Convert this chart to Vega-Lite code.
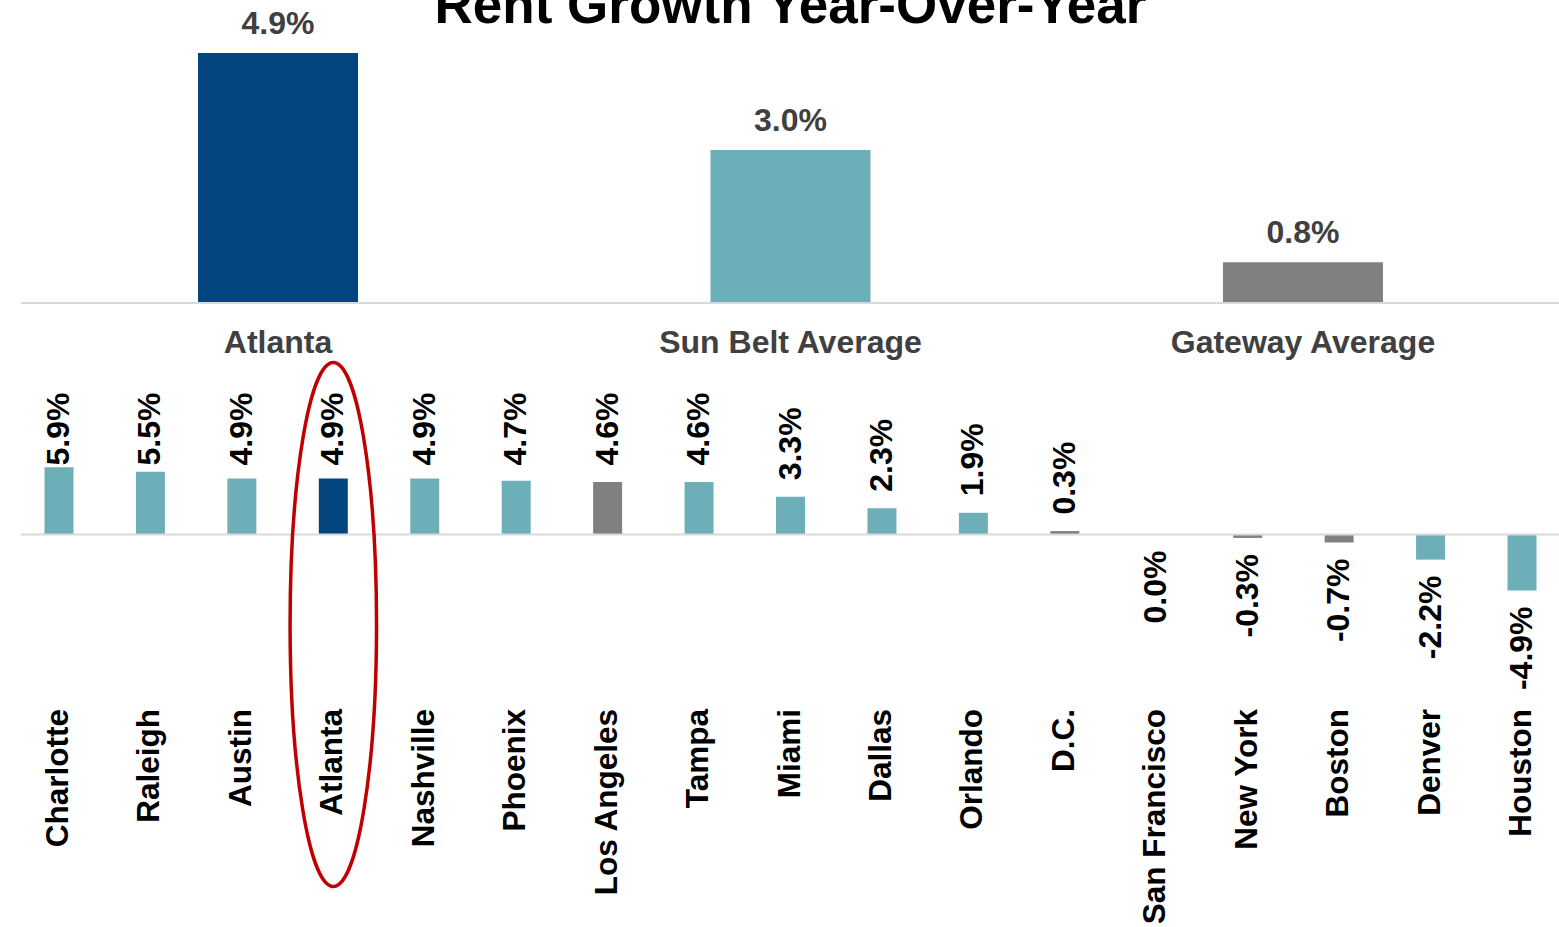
{
  "$schema": "https://vega.github.io/schema/vega-lite/v6.json",
  "padding": {"left": 20, "top": -19, "right": 0, "bottom": 0},
  "background": "white",
  "config": {
    "view": {"stroke": null},
    "font": "Liberation Sans",
    "locale": {"number": {"decimal": ".", "thousands": ",", "grouping": [3], "currency": ["$", ""], "minus": "-"}}
  },
  "title": {"text": "Rent Growth Year-Over-Year", "fontSize": 53, "fontWeight": "bold", "color": "#000000", "font": "Liberation Sans", "anchor": "middle", "offset": -26},
  "spacing": 163,
  "bounds": "flush",
  "vconcat": [
    {
      "width": 1539,
      "height": 255,
      "data": {"values": [
        {"market": "Atlanta", "g": 0.049, "grp": "Atlanta"},
        {"market": "Sun Belt Average", "g": 0.030, "grp": "Sun Belt"},
        {"market": "Gateway Average", "g": 0.008, "grp": "Gateway"}
      ]},
      "layer": [
        {
          "mark": {"type": "bar"},
          "encoding": {
            "x": {"field": "market", "type": "nominal", "sort": null, "title": null,
              "scale": {"domain": ["Atlanta", "Sun Belt Average", "Gateway Average"], "paddingInner": 0.6878, "paddingOuter": 0.3454},
              "axis": {"labelAngle": 0, "labelPadding": 24, "labelFontSize": 32, "labelFontWeight": "bold", "labelColor": "#404040", "ticks": false, "tickSize": 0, "domain": false, "labelLimit": 600, "labelOverlap": false}},
            "y": {"field": "g", "type": "quantitative", "scale": {"domain": [0, 0.05]}, "axis": null},
            "color": {"field": "grp", "type": "nominal", "scale": {"domain": ["Atlanta", "Sun Belt", "Gateway"], "range": ["#03467F", "#6DAFB8", "#808080"]}, "legend": null}
          }
        },
        {
          "mark": {"type": "text", "baseline": "alphabetic", "dy": -19, "fontSize": 32, "fontWeight": "bold", "color": "#404040"},
          "encoding": {
            "x": {"field": "market", "type": "nominal", "sort": null},
            "y": {"field": "g", "type": "quantitative", "scale": {"domain": [0, 0.05]}},
            "text": {"field": "g", "type": "quantitative", "format": ".1%"}
          }
        },
        {
          "data": {"values": [{}]},
          "mark": {"type": "rule", "color": "#D9D9D9", "strokeWidth": 2},
          "encoding": {"y": {"datum": 0, "type": "quantitative", "scale": {"domain": [0, 0.05]}}}
        }
      ]
    },
    {
      "width": 1539,
      "height": 137,
      "data": {"values": [
        {"market": "Charlotte", "g": 0.059, "grp": "Sun Belt"},
        {"market": "Raleigh", "g": 0.055, "grp": "Sun Belt"},
        {"market": "Austin", "g": 0.049, "grp": "Sun Belt"},
        {"market": "Atlanta", "g": 0.049, "grp": "Atlanta"},
        {"market": "Nashville", "g": 0.049, "grp": "Sun Belt"},
        {"market": "Phoenix", "g": 0.047, "grp": "Sun Belt"},
        {"market": "Los Angeles", "g": 0.046, "grp": "Gateway"},
        {"market": "Tampa", "g": 0.046, "grp": "Sun Belt"},
        {"market": "Miami", "g": 0.033, "grp": "Sun Belt"},
        {"market": "Dallas", "g": 0.023, "grp": "Sun Belt"},
        {"market": "Orlando", "g": 0.019, "grp": "Sun Belt"},
        {"market": "D.C.", "g": 0.003, "grp": "Gateway"},
        {"market": "San Francisco", "g": 0.0, "grp": "Gateway"},
        {"market": "New York", "g": -0.003, "grp": "Gateway"},
        {"market": "Boston", "g": -0.007, "grp": "Gateway"},
        {"market": "Denver", "g": -0.022, "grp": "Sun Belt"},
        {"market": "Houston", "g": -0.049, "grp": "Sun Belt"}
      ]},
      "layer": [
        {
          "mark": {"type": "bar"},
          "encoding": {
            "x": {"field": "market", "type": "nominal", "sort": null, "title": null,
              "scale": {"domain": ["Charlotte", "Raleigh", "Austin", "Atlanta", "Nashville", "Phoenix", "Los Angeles", "Tampa", "Miami", "Dallas", "Orlando", "D.C.", "San Francisco", "New York", "Boston", "Denver", "Houston"], "paddingInner": 0.6829, "paddingOuter": 0.257},
              "axis": {"labelAngle": -90, "labelPadding": 105.5, "labelFontSize": 31.5, "labelFontWeight": "bold", "labelColor": "#000000", "ticks": false, "tickSize": 0, "domain": false, "labelLimit": 600, "labelOverlap": false}},
            "y": {"field": "g", "type": "quantitative", "scale": {"domain": [-0.06, 0.06]}, "axis": null},
            "color": {"field": "grp", "type": "nominal", "scale": {"domain": ["Atlanta", "Sun Belt", "Gateway"], "range": ["#03467F", "#6DAFB8", "#808080"]}, "legend": null}
          }
        },
        {
          "transform": [{"filter": "datum.g >= 0.046"}],
          "mark": {"type": "text", "angle": 270, "align": "left", "baseline": "middle", "dx": 16.5, "fontSize": 32, "fontWeight": "bold", "color": "#000000"},
          "encoding": {
            "x": {"field": "market", "type": "nominal", "sort": null},
            "y": {"datum": 0.046, "type": "quantitative", "scale": {"domain": [-0.06, 0.06]}},
            "text": {"field": "g", "type": "quantitative", "format": ".1%"}
          }
        },
        {
          "transform": [{"filter": "datum.g > 0 && datum.g < 0.046"}],
          "mark": {"type": "text", "angle": 270, "align": "left", "baseline": "middle", "dx": 16.5, "fontSize": 32, "fontWeight": "bold", "color": "#000000"},
          "encoding": {
            "x": {"field": "market", "type": "nominal", "sort": null},
            "y": {"field": "g", "type": "quantitative", "scale": {"domain": [-0.06, 0.06]}},
            "text": {"field": "g", "type": "quantitative", "format": ".1%"}
          }
        },
        {
          "transform": [{"filter": "datum.g <= 0"}],
          "mark": {"type": "text", "angle": 270, "align": "right", "baseline": "middle", "dx": -16, "fontSize": 32, "fontWeight": "bold", "color": "#000000"},
          "encoding": {
            "x": {"field": "market", "type": "nominal", "sort": null},
            "y": {"field": "g", "type": "quantitative", "scale": {"domain": [-0.06, 0.06]}},
            "text": {"field": "g", "type": "quantitative", "format": ".1%"}
          }
        },
        {
          "data": {"values": [{}]},
          "mark": {"type": "rule", "color": "#D9D9D9", "strokeWidth": 2},
          "encoding": {"y": {"datum": 0, "type": "quantitative", "scale": {"domain": [-0.06, 0.06]}}}
        },
        {
          "data": {"values": [{}]},
          "mark": {"type": "point", "shape": "M0,-1C0.091,-1 0.165,-0.552 0.165,0C0.165,0.552 0.091,1 0,1C-0.091,1 -0.165,0.552 -0.165,0C-0.165,-0.552 -0.091,-1 0,-1Z", "size": 274576, "filled": false, "stroke": "#C00000", "strokeWidth": 3.5, "opacity": 1},
          "encoding": {
            "x": {"datum": "Atlanta", "type": "nominal"},
            "y": {"datum": -0.0788, "type": "quantitative", "scale": {"domain": [-0.06, 0.06]}}
          }
        }
      ]
    }
  ]
}
